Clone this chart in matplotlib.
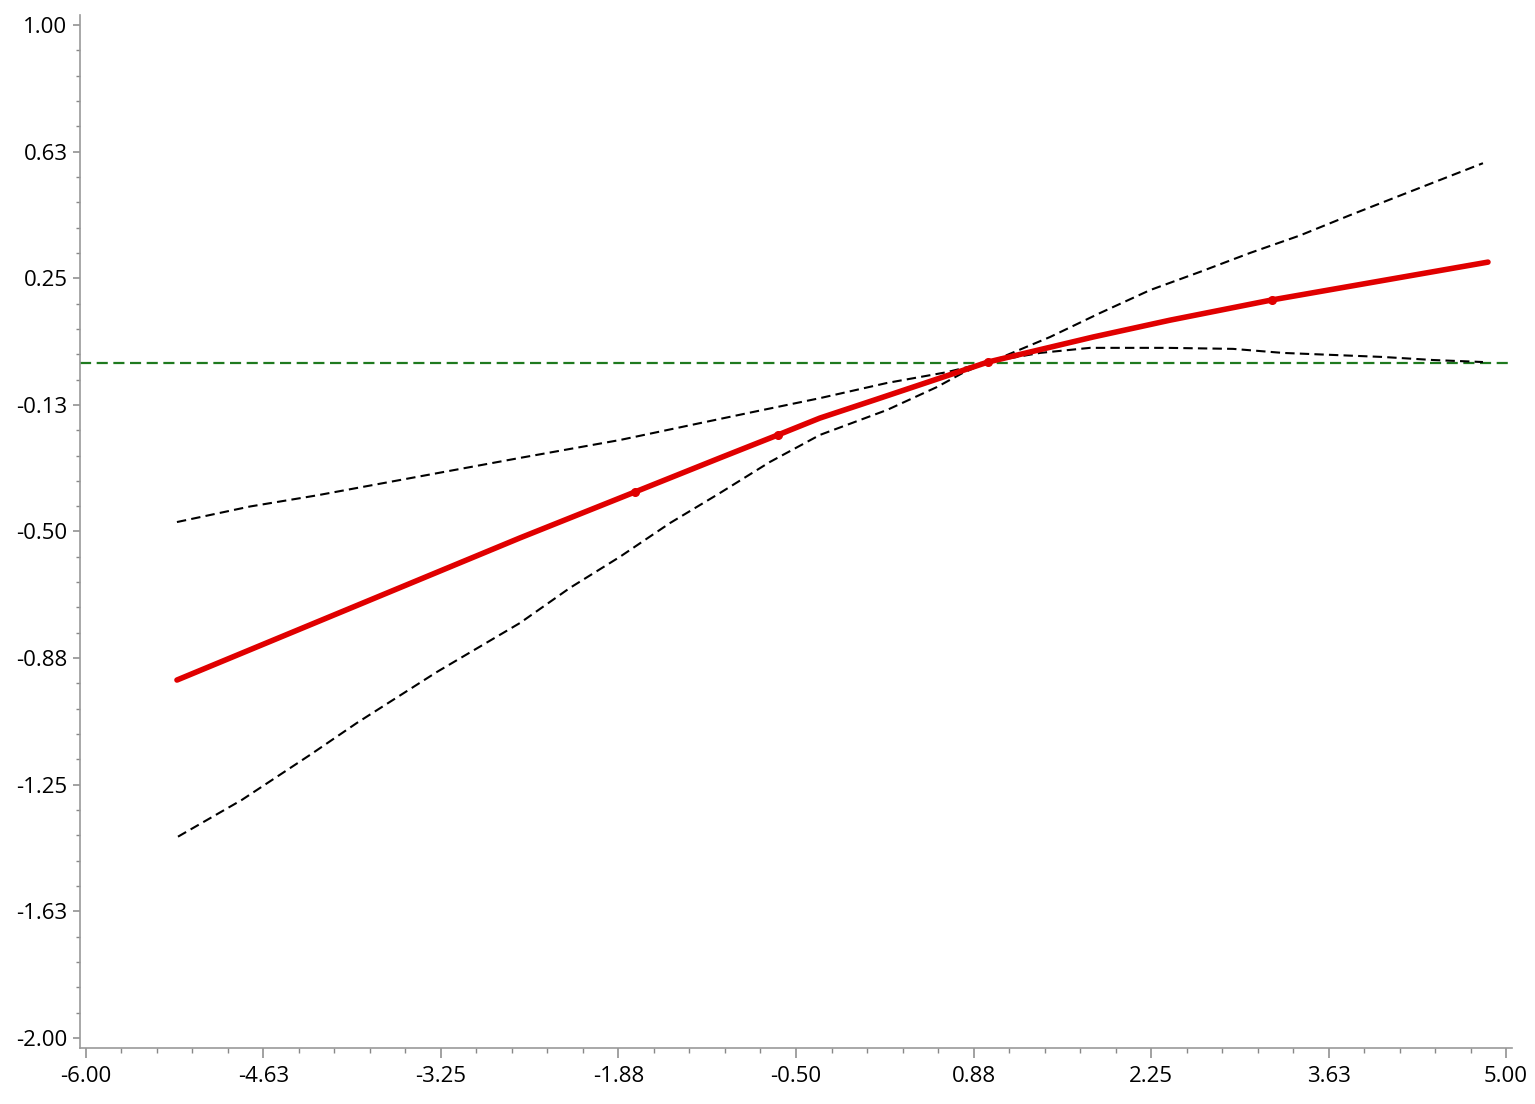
import numpy as np
import matplotlib
matplotlib.use("Agg")
import matplotlib.pyplot as plt
from matplotlib.ticker import FixedLocator, AutoMinorLocator

plt.rcParams['font.family'] = ['Open Sans', 'DejaVu Sans']

# fitted line (red)
fit_x = [-5.295, -2.638, -1.748, -1.089, -0.640, -0.315, 0.111, 0.987, 1.800, 2.397, 3.187, 4.860]
fit_y = [-0.940, -0.519, -0.383, -0.282, -0.214, -0.164, -0.110, 0.002, 0.076, 0.126, 0.186, 0.298]

# upper confidence band (dashed black)
upper_x = [-5.295, -4.730, -4.211, -3.645, -2.638, -1.864, -1.244, -0.833, -0.315, 0.205, 0.669, 0.987,
           1.080, 1.467, 1.854, 2.242, 2.629, 3.016, 3.404, 3.791, 4.178, 4.821]
upper_y = [-0.472, -0.426, -0.393, -0.353, -0.282, -0.229, -0.179, -0.146, -0.105, -0.060, -0.028, 0.002,
           0.014, 0.076, 0.147, 0.215, 0.269, 0.325, 0.377, 0.437, 0.495, 0.591]

# lower confidence band (dashed black)
lower_x = [-5.287, -4.792, -4.265, -3.901, -3.281, -2.638, -2.251, -1.864, -1.476, -1.089, -0.702,
           -0.315, 0.205, 0.592, 0.793, 0.987,
           1.390, 1.777, 2.373, 2.885, 3.272, 3.659, 4.047, 4.434, 4.821]
lower_y = [-1.404, -1.295, -1.162, -1.067, -0.916, -0.771, -0.667, -0.575, -0.475, -0.386, -0.294,
           -0.214, -0.140, -0.072, -0.030, 0.002,
           0.029, 0.044, 0.044, 0.041, 0.029, 0.023, 0.017, 0.008, 0.002]

ref_level = 0.0

xticks = [-6.00, -4.63, -3.25, -1.88, -0.50, 0.88, 2.25, 3.63, 5.00]
yticks = [-2.00, -1.63, -1.25, -0.88, -0.50, -0.13, 0.25, 0.63, 1.00]

W, H = 1535, 1104
fig = plt.figure(figsize=(W / 100, H / 100), dpi=100)
ax = fig.add_axes([80 / W, 1 - 1048 / H, (1512 - 80) / W, (1048 - 15) / H])

ax.axhline(ref_level, color='#1f7a1f', lw=1.6, ls=(0, (5, 2.5)), zorder=1)
ax.plot(upper_x, upper_y, color='black', lw=1.5, ls=(0, (4.5, 2.5)), zorder=2)
ax.plot(lower_x, lower_y, color='black', lw=1.5, ls=(0, (4.5, 2.5)), zorder=2)
# only a few of the knots show a visible dot in the original
ax.plot(fit_x, fit_y, color='#e00000', lw=4.0, solid_capstyle='round',
        marker='o', markersize=5.5, markevery=[2, 4, 7, 10], zorder=3)

# exact positions 1.375 / 0.375 apart, labels rounded as in the original
xt = np.linspace(-6, 5, 9)
yt = np.linspace(-2, 1, 9)
ax.xaxis.set_major_locator(FixedLocator(xt))
ax.yaxis.set_major_locator(FixedLocator(yt))
ax.set_xticklabels([f"{v:.2f}" for v in xticks])
ax.set_yticklabels([f"{v:.2f}" for v in yticks])
ax.xaxis.set_minor_locator(AutoMinorLocator(5))
ax.yaxis.set_minor_locator(AutoMinorLocator(5))

ax.set_xlim(-6.046, 5.046)
ax.set_ylim(-2.03, 1.03)

for side in ['top', 'right']:
    ax.spines[side].set_visible(False)
for side in ['left', 'bottom']:
    ax.spines[side].set_color('#999999')
    ax.spines[side].set_linewidth(1.2)

ax.tick_params(axis='x', which='major', length=7, width=1.1, color='#888888',
               labelsize=16, pad=6)
ax.tick_params(axis='x', which='minor', length=3.5, width=1.0, color='#888888')
ax.tick_params(axis='y', which='major', length=5, width=1.1, color='#888888',
               labelsize=16, pad=4)
ax.tick_params(axis='y', which='minor', length=3, width=1.0, color='#888888')

fig.savefig('out.png', dpi=100)
